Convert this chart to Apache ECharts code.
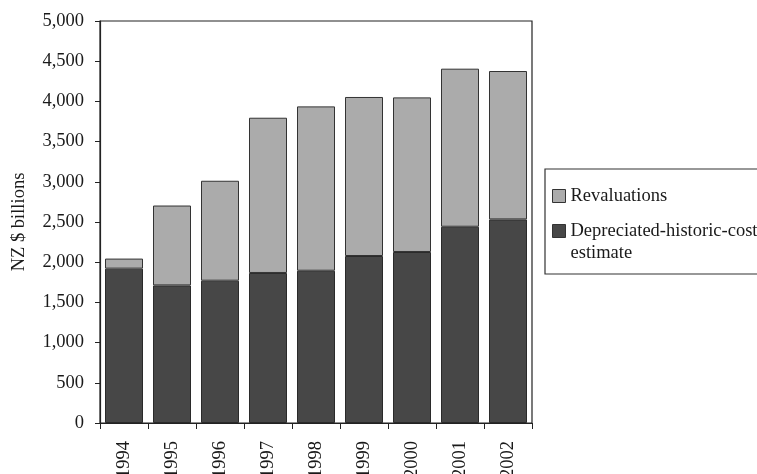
<!DOCTYPE html>
<html>
<head>
<meta charset="utf-8">
<script src="https://cdn.jsdelivr.net/npm/echarts@6/dist/echarts.min.js"></script>
<style>
  html, body { margin: 0; padding: 0; background: #fff; }
  #chart { width: 757px; height: 474px; }
</style>
</head>
<body>
<div id="chart"></div>
<script>
// Years on the category axis
const years = ['1994', '1995', '1996', '1997', '1998', '1999', '2000', '2001', '2002'];
// Depreciated-historic-cost estimate (NZ $ billions)
const historicCost = [1920, 1711, 1770, 1866, 1894, 2077, 2127, 2441, 2532];
// Revaluations stacked on top (NZ $ billions)
const revaluations = [125, 994, 1243, 1931, 2044, 1978, 1923, 1966, 1846];
// Value axis ticks
const yMin = 0, yMax = 5000, yStep = 500;

const costName = 'Depreciated-historic-cost estimate';
const serif = '"Liberation Serif", "DejaVu Serif", serif';
const fs = 18.5;
const chart = echarts.init(document.getElementById('chart'));

chart.setOption({
  backgroundColor: '#ffffff',
  animation: false,
  grid: {
    left: 100, top: 21, right: 225, bottom: 51,
    containLabel: false,
    outerBoundsMode: 'none',
    show: true, borderColor: '#222', borderWidth: 1.2,
    backgroundColor: 'transparent'
  },
  legend: {
    orient: 'vertical',
    left: 545, top: 169,
    padding: [16, 40, 10, 7],
    icon: 'rect',
    itemWidth: 13, itemHeight: 13,
    itemGap: -9,
    borderColor: '#333', borderWidth: 1.2,
    itemStyle: { borderColor: '#333', borderWidth: 1 },
    textStyle: {
      fontFamily: serif, fontSize: fs, color: '#1a1a1a', lineHeight: 22,
      rich: {
        // first line given a taller line box so it sits level with the swatch
        first: { fontFamily: serif, fontSize: fs, color: '#1a1a1a', lineHeight: 44, padding: [22, 0, 0, 0] },
        rest: { fontFamily: serif, fontSize: fs, color: '#1a1a1a', lineHeight: 22 }
      }
    },
    formatter: name => name === costName
      ? '{first|Depreciated-historic-cost}\n{rest|estimate}'
      : name,
    data: ['Revaluations', costName]
  },
  xAxis: {
    type: 'category',
    data: years,
    axisLine: { lineStyle: { color: '#222', width: 1.2 } },
    axisTick: { show: true, length: 6, lineStyle: { color: '#222' } },
    axisLabel: {
      rotate: 90, margin: 18,
      fontFamily: serif, fontSize: fs, color: '#1a1a1a'
    }
  },
  yAxis: {
    type: 'value',
    min: yMin, max: yMax, interval: yStep,
    name: 'NZ $ billions',
    nameLocation: 'middle',
    nameGap: 71,
    nameTextStyle: { fontFamily: serif, fontSize: fs, color: '#1a1a1a' },
    axisLine: { show: true, lineStyle: { color: '#222', width: 1.2 } },
    axisTick: { show: true, length: 5, lineStyle: { color: '#222' } },
    splitLine: { show: false },
    axisLabel: {
      margin: 16,
      fontFamily: serif, fontSize: fs, color: '#1a1a1a',
      formatter: v => v.toLocaleString('en-US')
    }
  },
  series: [
    {
      name: costName,
      type: 'bar', stack: 'total',
      barWidth: 38,
      data: historicCost,
      itemStyle: { color: '#474747', borderColor: '#2a2a2a', borderWidth: 1 }
    },
    {
      name: 'Revaluations',
      type: 'bar', stack: 'total',
      barWidth: 38,
      data: revaluations,
      itemStyle: { color: '#ababab', borderColor: '#333', borderWidth: 1 }
    }
  ]
});
</script>
</body>
</html>
